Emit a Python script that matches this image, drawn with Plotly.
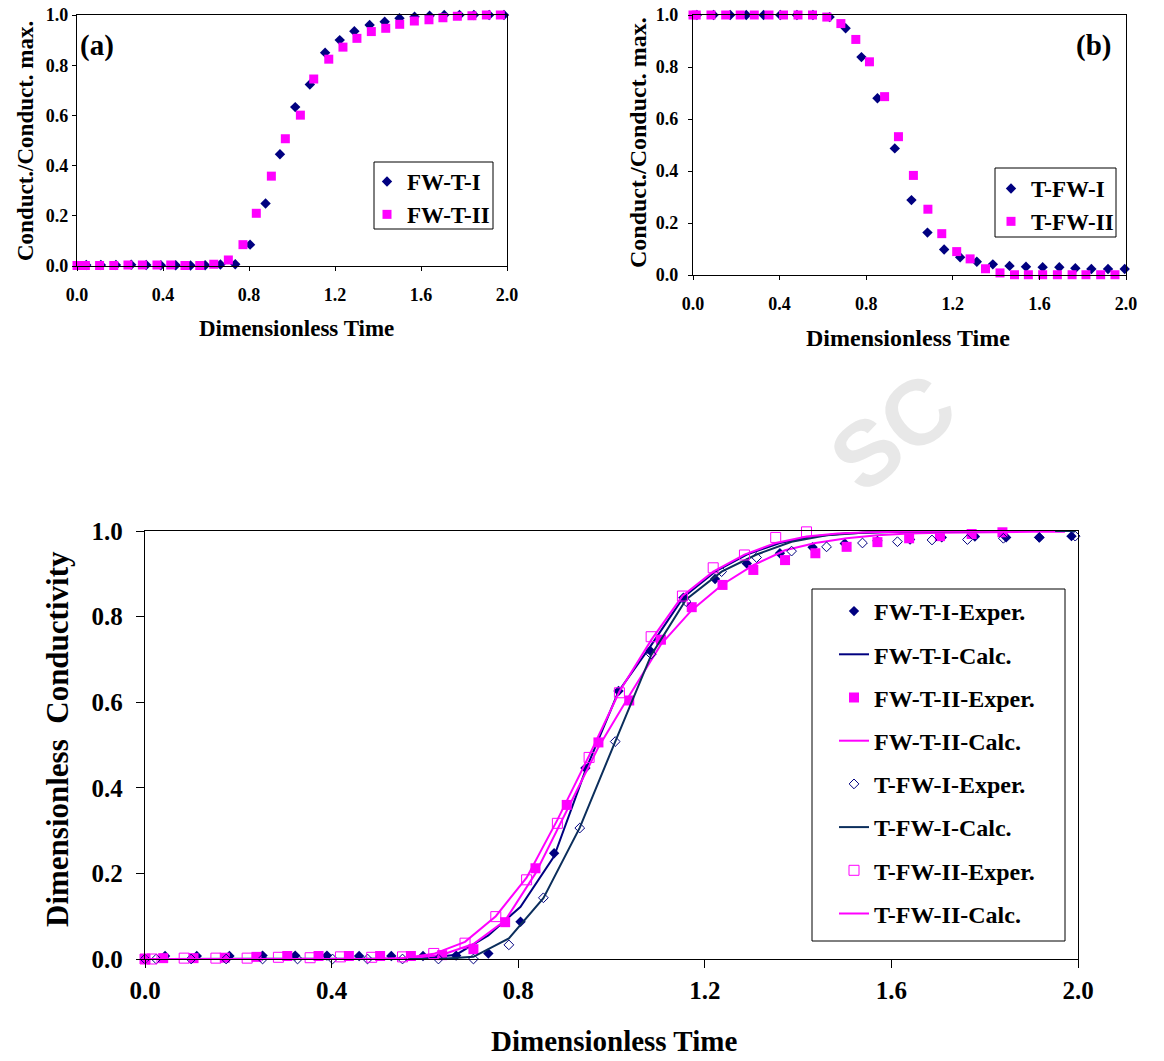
import plotly.graph_objects as go

W, H = 1164, 1061
NAVY = "#000080"
NAVY2 = "#0B2E5C"
MAG = "#FF00FF"
FONT = "Liberation Serif"

# ---------------- Panel (a) data ----------------
a_fwt1_t = [0.043, 0.111, 0.181, 0.252, 0.322, 0.39, 0.459, 0.528, 0.596, 0.667, 0.736,
            0.805, 0.877, 0.944, 1.015, 1.083, 1.154, 1.222, 1.29, 1.361, 1.431,
            1.50, 1.57, 1.64, 1.708, 1.779, 1.846, 1.917, 1.986]
a_fwt1_v = [0.004, 0.004, 0.004, 0.005, 0.004, 0.003, 0.003, 0.002, 0.003, 0.006, 0.007,
            0.085, 0.249, 0.445, 0.633, 0.723, 0.85, 0.90, 0.935, 0.96, 0.973,
            0.987, 0.993, 0.997, 1.0, 1.0, 1.0, 1.0, 1.0]
a_fwt2_t = [0.0, 0.039, 0.105, 0.171, 0.237, 0.304, 0.372, 0.436, 0.502, 0.571, 0.636,
            0.704, 0.772, 0.834, 0.904, 0.969, 1.039, 1.101, 1.171, 1.237, 1.302,
            1.369, 1.436, 1.501, 1.569, 1.637, 1.702, 1.769, 1.837, 1.904, 1.969]
a_fwt2_v = [0.002, 0.002, 0.002, 0.002, 0.004, 0.004, 0.004, 0.004, 0.002, 0.002, 0.007,
            0.024, 0.085, 0.21, 0.358, 0.507, 0.601, 0.745, 0.824, 0.872, 0.907,
            0.934, 0.947, 0.963, 0.976, 0.981, 0.989, 0.995, 0.997, 1.0, 1.0]

# ---------------- Panel (b) data ----------------
b_tfw1_t = [0.018, 0.095, 0.172, 0.246, 0.326, 0.403, 0.48, 0.554, 0.631, 0.705, 0.778,
            0.852, 0.932, 1.009, 1.083, 1.16, 1.234, 1.311, 1.385, 1.462, 1.538,
            1.615, 1.692, 1.766, 1.84, 1.917, 1.994]
b_tfw1_v = [1.0, 1.0, 1.0, 1.0, 1.0, 1.0, 1.0, 1.0, 0.992, 0.949, 0.838,
            0.68, 0.487, 0.288, 0.163, 0.098, 0.068, 0.051, 0.041, 0.035, 0.032,
            0.03, 0.03, 0.026, 0.023, 0.023, 0.023]
b_tfw2_t = [0.0, 0.015, 0.083, 0.151, 0.218, 0.283, 0.351, 0.418, 0.485, 0.552, 0.618,
            0.683, 0.752, 0.815, 0.885, 0.949, 1.018, 1.085, 1.149, 1.218, 1.28,
            1.351, 1.418, 1.485, 1.549, 1.615, 1.683, 1.751, 1.815, 1.883, 1.949]
b_tfw2_v = [1.0, 1.0, 1.0, 1.0, 1.0, 1.0, 1.0, 1.0, 1.0, 1.0, 0.992,
            0.967, 0.906, 0.82, 0.686, 0.532, 0.383, 0.253, 0.159, 0.09, 0.062,
            0.024, 0.008, 0.001, 0.001, 0.001, 0.001, 0.001, 0.001, 0.001, 0.001]

# ---------------- Bottom chart data ----------------
fwt1_t = [0.043, 0.111, 0.181, 0.252, 0.322, 0.39, 0.459, 0.528, 0.596, 0.667, 0.736,
          0.805, 0.877, 0.944, 1.015, 1.083, 1.154, 1.222, 1.29, 1.361, 1.431,
          1.50, 1.57, 1.64, 1.708, 1.779, 1.846, 1.917, 1.986]
fwt1_exp = [0.007, 0.007, 0.007, 0.008, 0.008, 0.008, 0.007, 0.007, 0.007, 0.008, 0.013,
            0.087, 0.247, 0.446, 0.626, 0.72, 0.844, 0.888, 0.924, 0.948, 0.962,
            0.971, 0.977, 0.98, 0.985, 0.987, 0.985, 0.985, 0.988]
fwt1_calc = [0.0, 0.0, 0.0, 0.0, 0.0, 0.0, 0.0, 0.0, 0.001, 0.01, 0.055,
             0.122, 0.24, 0.44, 0.625, 0.73, 0.845, 0.905, 0.945, 0.972, 0.987,
             0.994, 0.997, 0.998, 0.999, 0.999, 1.0, 1.0, 1.0]

fwt2_t = [0.0, 0.039, 0.104, 0.171, 0.239, 0.305, 0.372, 0.437, 0.504, 0.57, 0.637,
          0.704, 0.772, 0.837, 0.904, 0.972, 1.038, 1.106, 1.172, 1.238, 1.304,
          1.372, 1.437, 1.504, 1.57, 1.638, 1.704, 1.772, 1.838, 1.904, 1.972]
fwt2_exp = [0.0, 0.002, 0.002, 0.003, 0.005, 0.007, 0.007, 0.007, 0.007, 0.007, 0.009,
            0.023, 0.086, 0.212, 0.36, 0.506, 0.604, 0.746, 0.822, 0.874, 0.909,
            0.932, 0.948, 0.963, 0.974, 0.983, 0.988, 0.993, 0.997, 1.001, 1.002]
fwt2_calc = [0.0, 0.0, 0.0, 0.0, 0.0, 0.0, 0.0, 0.0, 0.0, 0.002, 0.01,
             0.035, 0.09, 0.2, 0.345, 0.495, 0.615, 0.735, 0.815, 0.875, 0.92,
             0.955, 0.972, 0.983, 0.99, 0.994, 0.996, 0.997, 0.998, 0.998, 0.998]

tfw1_t = [0.0, 0.024, 0.099, 0.174, 0.252, 0.327, 0.402, 0.477, 0.552, 0.629, 0.704,
          0.78, 0.854, 0.932, 1.008, 1.085, 1.16, 1.236, 1.311, 1.386, 1.461,
          1.538, 1.613, 1.687, 1.763, 1.84, 1.917, 1.994]
tfw1_exp = [0.0, 0.0, 0.0, 0.0, 0.0, 0.0, 0.0, 0.0, 0.0, 0.0, 0.0,
            0.033, 0.143, 0.306, 0.508, 0.712, 0.835, 0.905, 0.938, 0.953, 0.963,
            0.972, 0.975, 0.979, 0.98, 0.983, 0.985, 0.988]
tfw1_calc = [0.0, 0.0, 0.0, 0.0, 0.0, 0.0, 0.0, 0.0, 0.0, 0.0, 0.005,
             0.048, 0.142, 0.307, 0.508, 0.71, 0.84, 0.905, 0.945, 0.975, 0.99,
             0.996, 0.998, 0.999, 1.0, 1.0, 1.0, 1.0]

tfw2_t = [0.0, 0.015, 0.084, 0.152, 0.219, 0.286, 0.354, 0.419, 0.486, 0.552, 0.619,
          0.686, 0.752, 0.818, 0.884, 0.952, 1.017, 1.085, 1.152, 1.218, 1.285,
          1.352, 1.418, 1.485, 1.551, 1.618, 1.685, 1.751, 1.817, 1.884, 1.951]
tfw2_exp = [0.0, 0.0, 0.002, 0.002, 0.002, 0.004, 0.003, 0.005, 0.004, 0.005, 0.013,
            0.037, 0.099, 0.185, 0.317, 0.471, 0.622, 0.753, 0.848, 0.914, 0.944,
            0.985, 0.998, 1.004, 1.004, 1.004, 1.004, 1.004, 1.004, 1.004, 1.004]
tfw2_calc = [0.0, 0.0, 0.0, 0.0, 0.0, 0.0, 0.0, 0.0, 0.0, 0.002, 0.012,
             0.04, 0.1, 0.19, 0.325, 0.475, 0.625, 0.745, 0.848, 0.905, 0.945,
             0.972, 0.987, 0.994, 0.997, 0.998, 0.999, 1.0, 1.0, 1.0, 1.0]

x_ticks = [0.0, 0.4, 0.8, 1.2, 1.6, 2.0]
y_ticks = [0.0, 0.2, 0.4, 0.6, 0.8, 1.0]


def X(px):
    return px / W


def Y(py):
    return 1 - py / H


fig = go.Figure()

# ---- bottom chart traces ----
bottom = [
    ("FW-T-I-Exper.", fwt1_t, fwt1_exp, "markers", dict(symbol="diamond", size=8, color=NAVY), None),
    ("FW-T-I-Calc.", fwt1_t, fwt1_calc, "lines", None, dict(color=NAVY, width=2)),
    ("FW-T-II-Exper.", fwt2_t, fwt2_exp, "markers", dict(symbol="square", size=10, color=MAG), None),
    ("FW-T-II-Calc.", fwt2_t, fwt2_calc, "lines", None, dict(color=MAG, width=2)),
    ("T-FW-I-Exper.", tfw1_t, tfw1_exp, "markers",
     dict(symbol="diamond-open", size=7.5, color=NAVY, line=dict(width=1)), None),
    ("T-FW-I-Calc.", tfw1_t, tfw1_calc, "lines", None, dict(color=NAVY2, width=2)),
    ("T-FW-II-Exper.", tfw2_t, tfw2_exp, "markers",
     dict(symbol="square-open", size=10, color=MAG, line=dict(width=1)), None),
    ("T-FW-II-Calc.", tfw2_t, tfw2_calc, "lines", None, dict(color=MAG, width=2)),
]
for i, (name, xs, ys, mode, mk, ln) in enumerate(bottom):
    kw = dict(x=xs, y=ys, mode=mode, name=name, xaxis="x", yaxis="y",
              legend="legend", legendgroup="g%d" % i, cliponaxis=False)
    if mk:
        kw["marker"] = mk
    if ln:
        kw["line"] = ln
    fig.add_trace(go.Scatter(**kw))

# ---- panel (a) ----
fig.add_trace(go.Scatter(x=a_fwt1_t, y=a_fwt1_v, mode="markers", name="FW-T-I",
                         marker=dict(symbol="diamond", size=8, color=NAVY),
                         xaxis="x2", yaxis="y2", legend="legend2", legendgroup="a1",
                         cliponaxis=False))
fig.add_trace(go.Scatter(x=a_fwt2_t, y=a_fwt2_v, mode="markers", name="FW-T-II",
                         marker=dict(symbol="square", size=9, color=MAG),
                         xaxis="x2", yaxis="y2", legend="legend2", legendgroup="a2",
                         cliponaxis=False))
# ---- panel (b) ----
fig.add_trace(go.Scatter(x=b_tfw1_t, y=b_tfw1_v, mode="markers", name="T-FW-I",
                         marker=dict(symbol="diamond", size=8, color=NAVY),
                         xaxis="x3", yaxis="y3", legend="legend3", legendgroup="b1",
                         cliponaxis=False))
fig.add_trace(go.Scatter(x=b_tfw2_t, y=b_tfw2_v, mode="markers", name="T-FW-II",
                         marker=dict(symbol="square", size=9, color=MAG),
                         xaxis="x3", yaxis="y3", legend="legend3", legendgroup="b2",
                         cliponaxis=False))


def axis(domain, anchor, tickvals, fsize, ticklen, standoff):
    return dict(domain=domain, anchor=anchor, range=[0, 1] if tickvals is y_ticks else [0, 2],
                tickvals=tickvals, tickformat=".1f", ticks="outside", ticklen=ticklen,
                tickwidth=1.3, tickcolor="black", showline=True, linecolor="black",
                linewidth=1.3, mirror=True, showgrid=False, zeroline=False,
                automargin=False,
                tickfont=dict(family=FONT, size=fsize, color="black", weight="bold"),
                ticklabelstandoff=standoff, fixedrange=True)


def legend(px, py, size, gap):
    return dict(x=X(px), y=Y(py), xanchor="left", yanchor="top",
                bgcolor="rgba(0,0,0,0)", borderwidth=0, tracegroupgap=gap,
                font=dict(family=FONT, size=size, color="black", weight="bold"))


def box(x0, x1, y0, y1):
    return dict(type="rect", xref="paper", yref="paper",
                x0=X(x0), x1=X(x1), y0=Y(y1), y1=Y(y0),
                line=dict(color="black", width=1), fillcolor="white", layer="below")


layout = dict(
    width=W, height=H, margin=dict(l=0, r=0, t=0, b=0, autoexpand=False),
    paper_bgcolor="white", plot_bgcolor="white",
    font=dict(family=FONT, color="black"),
    xaxis=axis([X(145), X(1078)], "y", x_ticks, 25, 8, 1),
    yaxis=axis([Y(959), Y(531)], "x", y_ticks, 25, 8, 8),
    xaxis2=axis([X(77), X(507)], "y2", x_ticks, 18, 4, 8),
    yaxis2=axis([Y(266), Y(15)], "x2", y_ticks, 18, 4, 0),
    xaxis3=axis([X(693), X(1126)], "y3", x_ticks, 18, 4, 8),
    yaxis3=axis([Y(275), Y(15)], "x3", y_ticks, 18, 4, 6),
    legend=legend(834, 589, 24, 9),
    legend2=legend(367, 160, 23, 0),
    legend3=legend(991, 167, 23, 0),
    shapes=[box(812, 1065, 589, 941), box(374, 493, 162, 229), box(995, 1116, 168, 237)],
)
fig.update_layout(**layout)


def ann(text, px, py, size, angle=0, color="black", family=FONT):
    fig.add_annotation(text=text, x=X(px), y=Y(py), xref="paper", yref="paper",
                       showarrow=False, textangle=angle, xanchor="center", yanchor="middle",
                       font=dict(family=family, size=size, color=color, weight="bold"))


# watermark fragment
ann("SC", 893, 432, 92, angle=-38, color="#e8e8e8", family="Liberation Sans")

ann("Dimensionless Time", 296, 328, 23)
ann("Conduct./Conduct. max.", 25, 141, 23, angle=-90)
ann("(a)", 97, 45, 29)
ann("Dimensionless Time", 908, 338, 24)
ann("Conduct./Conduct. max.", 638, 143, 24, angle=-90)
ann("(b)", 1093, 45, 29)
ann("Dimensionless Time", 614, 1041, 29)
ann("Dimensionless  Conductivity", 57, 739, 31, angle=-90)

fig.write_html("out.html")
